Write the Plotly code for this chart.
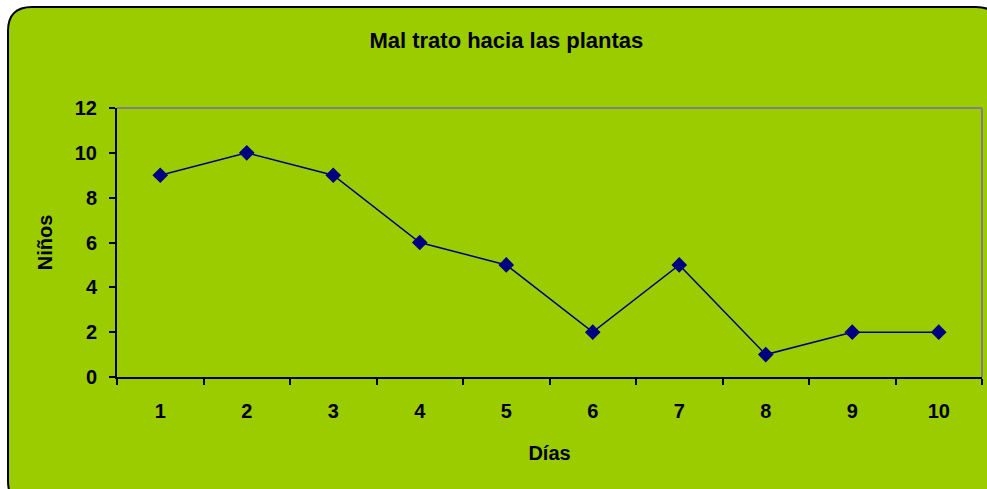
import plotly.graph_objects as go

dias = ["1", "2", "3", "4", "5", "6", "7", "8", "9", "10"]
ninos = [9, 10, 9, 6, 5, 2, 5, 1, 2, 2]
y_ticks = [0, 2, 4, 6, 8, 10, 12]

W, H = 987, 489
L, R, T, B = 117, 5, 108, 112
pw, ph = W - L - R, H - T - B

def px(x):
    return (x - L) / pw

def py(y):
    return (H - B - y) / ph

# rounded rectangle background (pixel coords)
x0, y0, x1, y1, r = 8, 7, 1000, 505, 24
path = (
    f"M {px(x0 + r)},{py(y0)} L {px(x1 - r)},{py(y0)} "
    f"Q {px(x1)},{py(y0)} {px(x1)},{py(y0 + r)} "
    f"L {px(x1)},{py(y1 - r)} Q {px(x1)},{py(y1)} {px(x1 - r)},{py(y1)} "
    f"L {px(x0 + r)},{py(y1)} Q {px(x0)},{py(y1)} {px(x0)},{py(y1 - r)} "
    f"L {px(x0)},{py(y0 + r)} Q {px(x0)},{py(y0)} {px(x0 + r)},{py(y0)} Z"
)

family = "Liberation Sans, Arial, sans-serif"
bold = dict(family=family, size=20, color="black", weight="bold")

fig = go.Figure()
fig.add_trace(go.Scatter(
    x=dias, y=ninos, mode="lines+markers",
    line=dict(color="#000080", width=1.5),
    marker=dict(symbol="diamond", size=12, color="#000080"),
    showlegend=False,
))

fig.update_layout(
    width=W, height=H,
    autosize=False,
    margin=dict(l=L, r=R, t=T, b=B, autoexpand=False),
    paper_bgcolor="white",
    plot_bgcolor="rgba(0,0,0,0)",
    shapes=[
        dict(type="path", path=path, xref="paper", yref="paper",
             fillcolor="#9ACC00", line=dict(color="black", width=2), layer="below"),
        dict(type="line", xref="paper", yref="paper", x0=0, x1=1, y0=1, y1=1,
             line=dict(color="#808080", width=2)),
        dict(type="line", xref="paper", yref="paper", x0=1, x1=1, y0=0, y1=1,
             line=dict(color="#808080", width=2)),
    ],
    title=dict(text="Mal trato hacia las plantas", x=0.513, xanchor="center",
               y=1 - 40 / H, yanchor="middle",
               font=dict(family=family, size=22, color="black", weight="bold")),
    xaxis=dict(
        type="category", range=[-0.5, 9.5], tickson="boundaries", ticks="outside", ticklen=6,
        tickcolor="black", tickwidth=1.5,
        showline=True, linecolor="black", linewidth=2, showgrid=False,
        tickfont=bold,
        ticklabelstandoff=15,
        title=dict(text="Días", font=bold, standoff=25),
    ),
    yaxis=dict(
        range=[0, 12], tickvals=y_ticks, ticks="outside", ticklen=6,
        tickcolor="black", tickwidth=1.5,
        showline=True, linecolor="black", linewidth=2, showgrid=False, zeroline=False,
        tickfont=bold,
        ticklabelstandoff=8,
        title=dict(text="Niños", font=bold, standoff=17),
    ),
)

fig.write_html(
    "out.html",
    config={"displayModeBar": False},
    post_script="document.body.style.margin='0';document.body.style.overflow='hidden';",
)
